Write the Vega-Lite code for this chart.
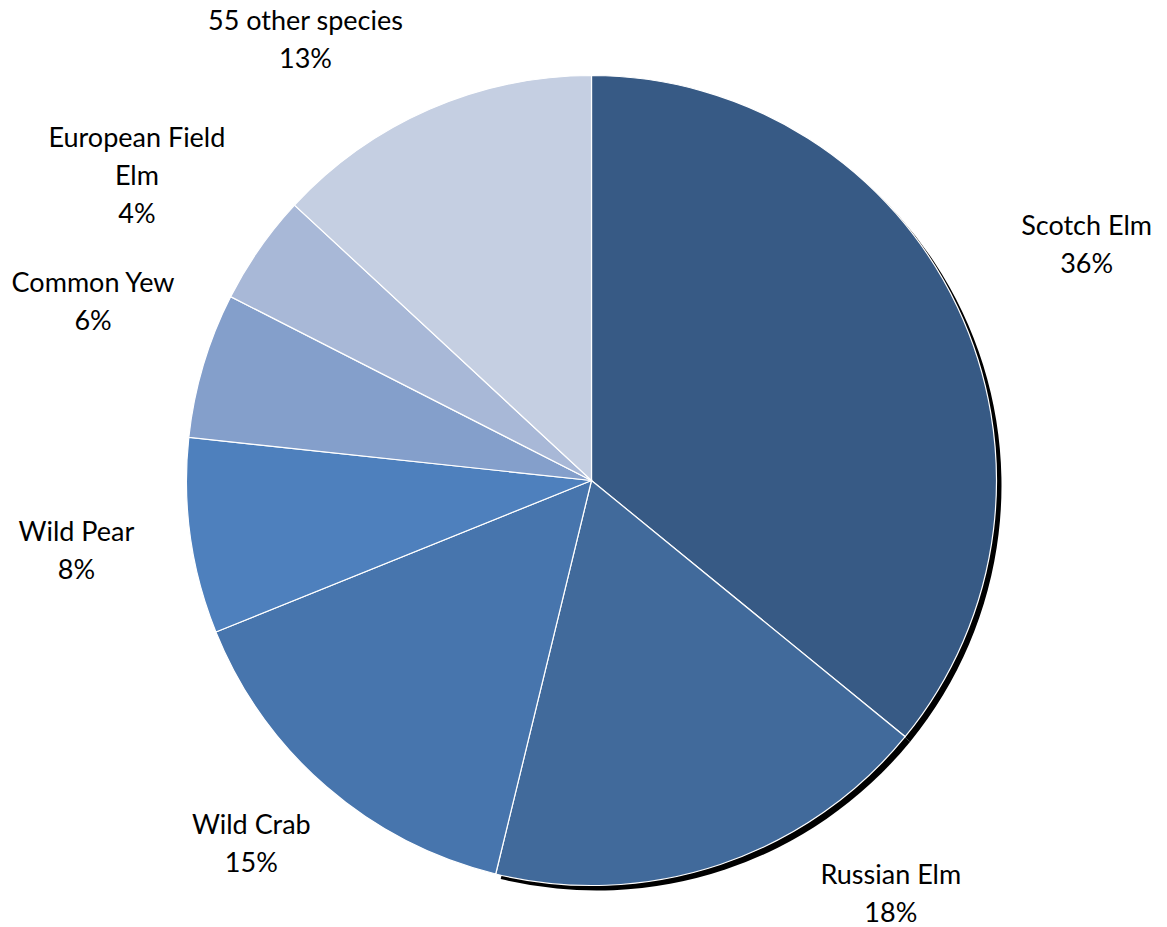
{
  "$schema": "https://vega.github.io/schema/vega-lite/v6.json",
  "width": 1151,
  "height": 893,
  "autosize": {"type": "none"},
  "padding": {"left": 16, "top": 34, "right": 0, "bottom": 0},
  "background": "white",
  "config": {
    "view": {"stroke": null},
    "text": {"font": "Lato", "fontSize": 27, "lineBreak": "\n", "lineHeight": 38, "color": "#000000", "align": "center", "baseline": "middle"}
  },
  "data": {
    "values": [
      {"rank": 1, "species": "Scotch Elm", "value": 35.9, "label": "Scotch Elm\n36%"},
      {"rank": 2, "species": "Russian Elm", "value": 17.9, "label": "Russian Elm\n18%"},
      {"rank": 3, "species": "Wild Crab", "value": 15.1, "label": "Wild Crab\n15%"},
      {"rank": 4, "species": "Wild Pear", "value": 7.8, "label": "Wild Pear\n8%"},
      {"rank": 5, "species": "Common Yew", "value": 5.8, "label": "Common Yew\n6%"},
      {"rank": 6, "species": "European Field Elm", "value": 4.4, "label": "European Field\nElm\n4%"},
      {"rank": 7, "species": "55 other species", "value": 13.1, "label": "55 other species\n13%"}
    ]
  },
  "encoding": {
    "theta": {"field": "value", "type": "quantitative", "stack": true},
    "order": {"field": "rank", "type": "quantitative"}
  },
  "layer": [
    {
      "transform": [{"filter": "datum.rank <= 2"}],
      "mark": {"type": "arc", "outerRadius": 405, "fill": "#000000", "x": {"expr": "width/2 + 5"}, "y": {"expr": "height/2 + 5"}}
    },
    {
      "mark": {"type": "arc", "outerRadius": 405, "stroke": "#ffffff", "strokeWidth": 1.2},
      "encoding": {
        "color": {
          "field": "species",
          "type": "nominal",
          "scale": {
            "domain": ["Scotch Elm", "Russian Elm", "Wild Crab", "Wild Pear", "Common Yew", "European Field Elm", "55 other species"],
            "range": ["#375A85", "#416A9B", "#4775AD", "#4E80BD", "#849FCB", "#A8B8D7", "#C5CFE2"]
          },
          "legend": null
        }
      }
    },
    {
      "mark": {"type": "text", "radius": 520, "dy": -19},
      "encoding": {"text": {"condition": {"test": "datum.rank == 4", "field": "label"}, "value": ""}}
    },
    {
      "mark": {"type": "text", "radius": 520, "dy": -48},
      "encoding": {"text": {"condition": {"test": "datum.rank == 3 || datum.rank == 5", "field": "label"}, "value": ""}}
    },
    {
      "mark": {"type": "text", "radius": 548, "dy": -19},
      "encoding": {"text": {"condition": {"test": "datum.rank == 1", "field": "label"}, "value": ""}}
    },
    {
      "mark": {"type": "text", "radius": 530, "dx": -20, "dy": -38},
      "encoding": {"text": {"condition": {"test": "datum.rank == 6", "field": "label"}, "value": ""}}
    },
    {
      "mark": {"type": "text", "radius": 435, "dx": 161, "dy": -17},
      "encoding": {"text": {"condition": {"test": "datum.rank == 2", "field": "label"}, "value": ""}}
    },
    {
      "mark": {"type": "text", "radius": 480, "dx": -94, "dy": -19},
      "encoding": {"text": {"condition": {"test": "datum.rank == 7", "field": "label"}, "value": ""}}
    }
  ]
}
